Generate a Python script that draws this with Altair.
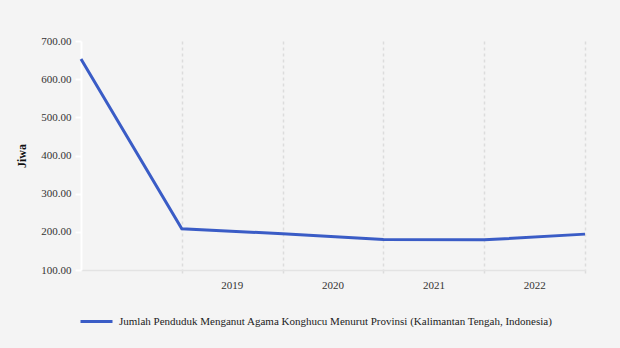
import altair as alt
import pandas as pd

# data
positions = [0, 1, 2, 3, 4, 5]
values = [653, 208, 195, 180, 179, 194]
tick_positions = [1, 2, 3, 4, 5]
tick_labels = ["2019", "2020", "2021", "2022", ""]
series_name = "Jumlah Penduduk Menganut Agama Konghucu Menurut Provinsi (Kalimantan Tengah, Indonesia)"

df = pd.DataFrame({"pos": positions, "val": values, "series": [series_name] * len(values)})

label_expr = " : ".join(
    [f"datum.value == {p} ? '{l}'" for p, l in zip(tick_positions, tick_labels)]
) + " : ''"

FONT = "Liberation Serif"

chart = (
    alt.Chart(df)
    .mark_line(strokeWidth=3, strokeCap="butt", strokeJoin="miter")
    .encode(
        x=alt.X(
            "pos:Q",
            scale=alt.Scale(domain=[0, 5], nice=False, zero=False),
            axis=alt.Axis(
                values=tick_positions,
                labelExpr=label_expr,
                labelOffset=50,
                title=None,
                grid=True,
                gridDash=[3, 3],
                gridColor="#dcdcdc",
                gridWidth=1.5,
                ticks=True,
                tickSize=5,
                tickDash=[3, 3],
                tickColor="#dcdcdc",
                tickWidth=1.5,
                domainColor="#e3e3e3",
                domainWidth=1.5,
                labelPadding=4,
                labelFont=FONT,
                labelFontSize=11,
                labelColor="#333333",
            ),
        ),
        y=alt.Y(
            "val:Q",
            scale=alt.Scale(domain=[100, 700], nice=False, zero=False),
            axis=alt.Axis(
                values=[100, 200, 300, 400, 500, 600, 700],
                format=".2f",
                title="Jiwa",
                titleFont=FONT,
                titleFontSize=12,
                titleFontWeight="bold",
                titleColor="#111111",
                titlePadding=12,
                grid=False,
                domainColor="#ffffff",
                domainWidth=2,
                tickColor="#ffffff",
                tickWidth=2,
                tickSize=6,
                labelPadding=4,
                labelFont=FONT,
                labelFontSize=11,
                labelColor="#333333",
            ),
        ),
        color=alt.Color(
            "series:N",
            scale=alt.Scale(range=["#3a5cc6"]),
            legend=alt.Legend(
                title=None,
                orient="none",
                legendX=-2,
                legendY=263,
                symbolType="stroke",
                symbolSize=1024,
                symbolStrokeWidth=3,
                labelOffset=5,
                labelFont=FONT,
                labelFontSize=11,
                labelColor="#222222",
                labelLimit=600,
            ),
        ),
    )
    .properties(
        width=504,
        height=229,
        background="#f4f4f4",
        padding={"left": 81, "top": 41, "right": 35, "bottom": 78},
        autosize=alt.AutoSizeParams(type="none"),
    )
    .configure_view(stroke=None)
)

chart.save("out.html", embed_options={"renderer": "svg", "actions": False})
